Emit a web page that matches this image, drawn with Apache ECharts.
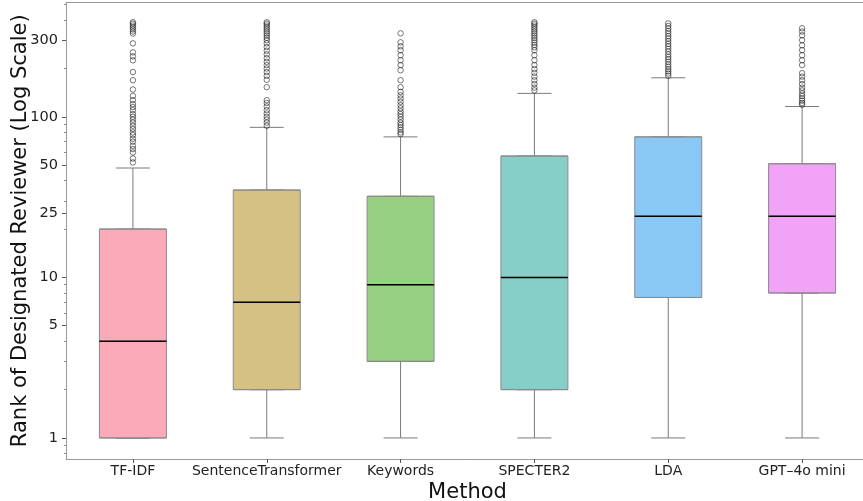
<!DOCTYPE html>
<html>
<head>
<meta charset="utf-8">
<title>Rank of Designated Reviewer</title>
<script src="https://cdn.jsdelivr.net/npm/echarts@6/dist/echarts.min.js"></script>
<style>
  html, body { margin: 0; padding: 0; background: #fff; }
  #chart { width: 863px; height: 501px; }
</style>
</head>
<body>
<div id="chart"></div>
<script>
// box statistics (ranks)
var methods = ['TF-IDF', 'SentenceTransformer', 'Keywords', 'SPECTER2', 'LDA', 'GPT\u20134o mini'];
var whiskerLow = [1, 1, 1, 1, 1, 1];
var q1 = [1, 2, 3, 2, 7.5, 8];
var median = [4, 7, 9, 10, 24, 24];
var q3 = [20, 35, 32, 57, 75, 51];
var whiskerHigh = [48, 86, 75, 140, 175, 116];

var outTfidf = [52, 55, 60, 63, 66, 70, 73, 77, 80, 84, 88, 92, 96, 100, 104, 110, 115, 120, 127, 135, 148, 169, 190, 225, 238, 252, 287, 330, 340, 350, 360, 370, 380, 388];
var outSentence = [88, 92, 96, 100, 105, 110, 116, 122, 127, 153, 170, 180, 190, 200, 210, 220, 232, 245, 258, 272, 287, 300, 310, 320, 330, 340, 350, 360, 370, 380, 388];
var outKeywords = [78, 80, 83, 86, 89, 92, 96, 100, 104, 108, 113, 118, 124, 130, 136, 143, 153, 169, 195, 210, 225, 242, 260, 275, 291, 331];
var outSpecter = [146, 152, 160, 169, 178, 188, 198, 210, 225, 242, 260, 271, 280, 290, 300, 310, 320, 330, 340, 350, 360, 370, 380, 388];
var outLda = [180, 186, 192, 198, 205, 212, 220, 228, 236, 245, 255, 265, 275, 285, 296, 307, 318, 330, 342, 355, 368, 382];
var outGpt = [119, 122, 126, 130, 135, 140, 146, 152, 160, 169, 178, 187, 210, 225, 242, 260, 279, 300, 322, 340, 356];

var yTicks = [1, 5, 10, 25, 50, 100, 300];
var yMinorTicks = [0.8, 0.9, 2, 3, 4, 6, 7, 8, 9, 20, 30, 40, 60, 70, 80, 90, 200, 400, 500];

var colors = ['#faaab8', '#d6c184', '#96d083', '#86cec8', '#89c8f4', '#f1a3f8'];

var L = Math.log10;
var yMin = -0.131, yMax = 2.712;

var outliers = [];
[outTfidf, outSentence, outKeywords, outSpecter, outLda, outGpt].forEach(function (arr, i) {
  arr.forEach(function (v) { outliers.push([i, L(v)]); });
});

var whiskerData = methods.map(function (m, i) {
  return [L(whiskerLow[i]), L(q1[i]), L(q1[i]), L(q3[i]), L(whiskerHigh[i])];
});
var boxData = methods.map(function (m, i) {
  return {
    value: [L(q1[i]), L(q1[i]), L(median[i]), L(q3[i]), L(q3[i])],
    itemStyle: { color: colors[i] }
  };
});
var medianData = methods.map(function (m, i) {
  var v = L(median[i]);
  return [v, v, v, v, v];
});

var font = 'DejaVu Sans';
function catAxis(show, pos) {
  return {
    type: 'category',
    data: methods,
    position: pos,
    boundaryGap: true,
    axisLine: { show: true, onZero: false, lineStyle: { color: '#9a9a9a', width: 1 } },
    axisTick: { show: show, alignWithLabel: true, length: 4, lineStyle: { color: '#555' } },
    axisLabel: { show: show, interval: 0, color: '#222', fontFamily: font, fontSize: 14, margin: 5 },
    splitLine: { show: false }
  };
}

var xMain = catAxis(true, 'bottom');
xMain.name = 'Method';
xMain.nameLocation = 'middle';
xMain.nameGap = 23;
xMain.nameMoveOverlap = false;
xMain.nameTextStyle = { color: '#111', fontFamily: font, fontSize: 21 };
var xTop = catAxis(false, 'top');
var xHidden = catAxis(false, 'bottom');
xHidden.axisLine = { show: false, onZero: false };

var option = {
  animation: false,
  backgroundColor: '#fff',
  grid: { left: 66, right: -6, top: 2.5, bottom: 42, outerBoundsMode: 'none', containLabel: false },
  xAxis: [xMain, xTop, xHidden],
  yAxis: [
    {
      type: 'value',
      min: yMin,
      max: yMax,
      position: 'left',
      name: 'Rank of Designated Reviewer (Log Scale)',
      nameLocation: 'middle',
      nameGap: 35,
      nameMoveOverlap: false,
      nameTextStyle: { color: '#111', fontFamily: font, fontSize: 21 },
      axisLine: { show: true, onZero: false, lineStyle: { color: '#9a9a9a', width: 1 } },
      axisTick: { show: true, length: 4, lineStyle: { color: '#555' }, customValues: yTicks.map(L) },
      axisLabel: {
        color: '#222', fontFamily: font, fontSize: 14.5, margin: 8,
        customValues: yTicks.map(L),
        formatter: function (v) { return String(Math.round(Math.pow(10, v))); }
      },
      splitLine: { show: false }
    },
    {
      type: 'value',
      min: yMin,
      max: yMax,
      position: 'left',
      offset: 0,
      axisLine: { show: false, onZero: false },
      axisTick: { show: true, length: 2, lineStyle: { color: '#888' }, customValues: yMinorTicks.map(L) },
      axisLabel: { show: false },
      splitLine: { show: false }
    }
  ],
  series: [
    {
      name: 'whiskers',
      type: 'boxplot',
      xAxisIndex: 0,
      yAxisIndex: 0,
      boxWidth: [34, 34],
      data: whiskerData,
      itemStyle: { color: 'rgba(0,0,0,0)', borderColor: '#7a7a7a', borderWidth: 1 },
      z: 2
    },
    {
      name: 'boxes',
      type: 'boxplot',
      xAxisIndex: 1,
      yAxisIndex: 0,
      boxWidth: [67, 67],
      data: boxData,
      itemStyle: { borderColor: '#8a8a8a', borderWidth: 1 },
      z: 3
    },
    {
      name: 'median',
      type: 'boxplot',
      xAxisIndex: 2,
      yAxisIndex: 0,
      boxWidth: [67, 67],
      data: medianData,
      itemStyle: { color: 'rgba(0,0,0,0)', borderColor: '#000', borderWidth: 1.5 },
      z: 4
    },
    {
      name: 'outliers',
      type: 'scatter',
      xAxisIndex: 0,
      yAxisIndex: 0,
      symbol: 'circle',
      symbolSize: 5.5,
      data: outliers,
      itemStyle: { color: 'rgba(255,255,255,0)', borderColor: '#111', borderWidth: 0.7 },
      z: 5
    }
  ]
};

var chart = echarts.init(document.getElementById('chart'), null, { renderer: 'canvas' });
chart.setOption(option);
</script>
</body>
</html>
